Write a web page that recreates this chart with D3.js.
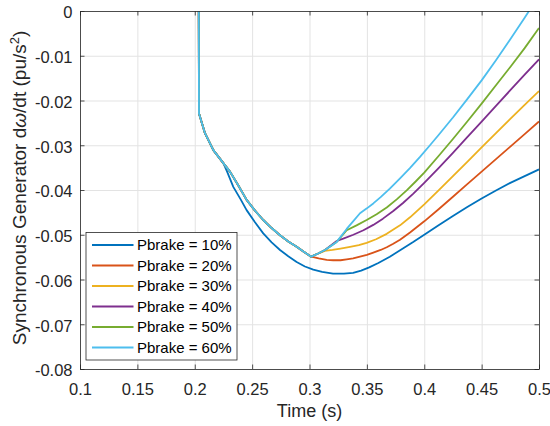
<!DOCTYPE html>
<html>
<head>
<meta charset="utf-8">
<script src="https://cdn.jsdelivr.net/npm/d3@7"></script>
<style>
  body { margin: 0; background: #fff; }
  svg { display: block; font-family: "Liberation Sans", Arial, sans-serif; }
  .grid line { stroke: #e3e3e3; stroke-width: 1; }
  .grid path { display: none; }
  .axis path, .axis line { stroke: #262626; stroke-width: 0.8; }
  .axis text { fill: #262626; font-size: 16.5px; }
</style>
</head>
<body>
<div id="chart"></div>
<script>
// tick labels
const xTicks = [0.1, 0.15, 0.2, 0.25, 0.3, 0.35, 0.4, 0.45, 0.5];
const xTickLabels = ['0.1', '0.15', '0.2', '0.25', '0.3', '0.35', '0.4', '0.45', '0.5'];
const yTicks = [0, -0.01, -0.02, -0.03, -0.04, -0.05, -0.06, -0.07, -0.08];
const yTickLabels = ['0', '-0.01', '-0.02', '-0.03', '-0.04', '-0.05', '-0.06', '-0.07', '-0.08'];

const seriesNames = ['Pbrake = 10%', 'Pbrake = 20%', 'Pbrake = 30%', 'Pbrake = 40%', 'Pbrake = 50%', 'Pbrake = 60%'];
const seriesColors = ['#0072BD', '#D95319', '#EDB120', '#7E2F8E', '#77AC30', '#4DBEEE'];

// shared start of all curves (fault drop)
const startTime = [0.2035, 0.2037, 0.2089, 0.2162, 0.2249];
const startValue = [0.0, -0.0229, -0.0273, -0.0311, -0.0340];

// shared dip of the 20..60% curves
const dipTime = [0.2307, 0.2380, 0.2452, 0.2525, 0.2597, 0.2670, 0.2743, 0.2815, 0.2888, 0.2950, 0.3015];
const dipValue = [-0.0359, -0.0390, -0.0422, -0.0446, -0.0467, -0.0485, -0.0501, -0.0515, -0.0527, -0.0538, -0.0549];

// Pbrake = 10%
const time10 = [0.2280, 0.2336, 0.2400, 0.2452, 0.2525, 0.2597, 0.2670, 0.2743, 0.2815, 0.2888, 0.2960, 0.3033, 0.3110, 0.3205, 0.3300, 0.3380, 0.3450, 0.3520, 0.3600, 0.3700, 0.3800, 0.3900, 0.4000, 0.4125, 0.4250, 0.4375, 0.4500, 0.4625, 0.4750, 0.4875, 0.5000];
const value10 = [-0.0358, -0.0393, -0.0421, -0.0445, -0.0472, -0.0497, -0.0517, -0.0534, -0.0548, -0.0561, -0.0571, -0.0578, -0.0583, -0.0587, -0.0587, -0.0585, -0.0580, -0.0573, -0.0563, -0.0549, -0.0533, -0.0517, -0.0500, -0.0479, -0.0458, -0.0438, -0.0419, -0.0401, -0.0384, -0.0369, -0.0354];

// Pbrake = 20%
const time20 = [0.3080, 0.3150, 0.3207, 0.3270, 0.3324, 0.3380, 0.3440, 0.3500, 0.3556, 0.3620, 0.3673, 0.3730, 0.3789, 0.3876, 0.4000, 0.4125, 0.4250, 0.4375, 0.4500, 0.4625, 0.4750, 0.4875, 0.5000];
const value20 = [-0.0553, -0.0556, -0.0557, -0.0557, -0.0555, -0.0553, -0.0549, -0.0545, -0.0540, -0.0534, -0.0528, -0.0520, -0.0511, -0.0495, -0.0470, -0.0443, -0.0415, -0.0387, -0.0359, -0.0331, -0.0303, -0.0275, -0.0247];

// Pbrake = 30%
const time30 = [0.3074, 0.3133, 0.3200, 0.3270, 0.3353, 0.3430, 0.3498, 0.3580, 0.3673, 0.3789, 0.3876, 0.4000, 0.4125, 0.4250, 0.4375, 0.4500, 0.4625, 0.4750, 0.4875, 0.5000];
const value30 = [-0.0542, -0.0536, -0.0534, -0.0531, -0.0527, -0.0523, -0.0518, -0.0510, -0.0498, -0.0479, -0.0461, -0.0432, -0.0401, -0.0369, -0.0337, -0.0305, -0.0273, -0.0241, -0.0210, -0.0179];

// Pbrake = 40%
const time40 = [0.3075, 0.3135, 0.3237, 0.3300, 0.3382, 0.3470, 0.3556, 0.3640, 0.3730, 0.3815, 0.3905, 0.4000, 0.4125, 0.4250, 0.4375, 0.4500, 0.4625, 0.4750, 0.4875, 0.5000];
const value40 = [-0.0542, -0.0534, -0.0514, -0.0508, -0.0500, -0.0490, -0.0478, -0.0464, -0.0447, -0.0429, -0.0408, -0.0384, -0.0351, -0.0317, -0.0282, -0.0247, -0.0212, -0.0177, -0.0142, -0.0108];

// Pbrake = 50%
const time50 = [0.3075, 0.3135, 0.3237, 0.3324, 0.3410, 0.3498, 0.3585, 0.3673, 0.3760, 0.3847, 0.3925, 0.4000, 0.4125, 0.4250, 0.4375, 0.4500, 0.4625, 0.4750, 0.4875, 0.5000];
const value50 = [-0.0542, -0.0534, -0.0516, -0.0490, -0.0479, -0.0467, -0.0454, -0.0439, -0.0421, -0.0401, -0.0381, -0.0361, -0.0324, -0.0286, -0.0247, -0.0207, -0.0166, -0.0125, -0.0083, -0.0038];

// Pbrake = 60%
const time60 = [0.3075, 0.3135, 0.3237, 0.3324, 0.3380, 0.3440, 0.3500, 0.3556, 0.3620, 0.3700, 0.3789, 0.3875, 0.3963, 0.4050, 0.4125, 0.4250, 0.4375, 0.4500, 0.4625, 0.4750, 0.4875, 0.4913];
const value60 = [-0.0542, -0.0534, -0.0516, -0.0487, -0.0470, -0.0452, -0.0441, -0.0430, -0.0416, -0.0397, -0.0374, -0.0351, -0.0326, -0.0300, -0.0277, -0.0238, -0.0197, -0.0155, -0.0110, -0.0063, -0.0015, 0.0];

const tailTimes = [time10, time20, time30, time40, time50, time60];
const tailValues = [value10, value20, value30, value40, value50, value60];

// 描画サイズ
const width = 550, height = 426;
const margin = { top: 11, right: 11, bottom: 57, left: 80 };
const plotW = width - margin.left - margin.right;
const plotH = height - margin.top - margin.bottom;

const svg = d3.select('#chart').append('svg')
    .attr('width', width)
    .attr('height', height);

const x = d3.scaleLinear().domain([0.1, 0.5]).range([0, plotW]);
const y = d3.scaleLinear().domain([-0.08, 0]).range([plotH, 0]);

const g = svg.append('g').attr('transform', `translate(${margin.left},${margin.top})`);

// グリッド
g.append('g').attr('class', 'grid')
    .attr('transform', `translate(0,${plotH})`)
    .call(d3.axisBottom(x).tickValues(xTicks).tickSize(-plotH).tickFormat(''));
g.append('g').attr('class', 'grid')
    .call(d3.axisLeft(y).tickValues(yTicks).tickSize(-plotW).tickFormat(''));

// 曲線
g.append('clipPath').attr('id', 'clip')
    .append('rect').attr('width', plotW).attr('height', plotH);

const line = d3.line()
    .x(d => x(d.t))
    .y(d => y(d.v));

const series = seriesNames.map((name, i) => {
    let ts = startTime.slice();
    let vs = startValue.slice();
    if (i > 0) {
        ts = ts.concat(dipTime);
        vs = vs.concat(dipValue);
    }
    ts = ts.concat(tailTimes[i]);
    vs = vs.concat(tailValues[i]);
    return { name, color: seriesColors[i], points: ts.map((t, k) => ({ t, v: vs[k] })) };
});

g.append('g').attr('clip-path', 'url(#clip)')
    .selectAll('path')
    .data(series)
    .enter()
    .append('path')
    .attr('fill', 'none')
    .attr('stroke', d => d.color)
    .attr('stroke-width', 1.8)
    .attr('stroke-linejoin', 'round')
    .attr('d', d => line(d.points));

// 軸
g.append('g').attr('class', 'axis')
    .attr('transform', `translate(0,${plotH})`)
    .call(d3.axisBottom(x).tickValues(xTicks).tickSizeInner(-4.5).tickSizeOuter(0).tickPadding(14.3)
        .tickFormat((d, i) => xTickLabels[i]));
g.append('g').attr('class', 'axis')
    .call(d3.axisTop(x).tickValues(xTicks).tickSizeInner(-4.5).tickSizeOuter(0).tickFormat(''));
g.append('g').attr('class', 'axis')
    .call(d3.axisLeft(y).tickValues(yTicks).tickSizeInner(-4.5).tickSizeOuter(0).tickPadding(7.5)
        .tickFormat((d, i) => yTickLabels[i]))
    .selectAll('text').attr('dy', '0.42em');
g.append('g').attr('class', 'axis')
    .attr('transform', `translate(${plotW},0)`)
    .call(d3.axisRight(y).tickValues(yTicks).tickSizeInner(-4.5).tickSizeOuter(0).tickFormat(''));

// 軸ラベル
svg.append('text')
    .attr('x', margin.left + plotW / 2)
    .attr('y', 416.5)
    .attr('text-anchor', 'middle')
    .attr('font-size', '18px')
    .attr('fill', '#262626')
    .text('Time (s)');

const yLabel = svg.append('text')
    .attr('transform', 'rotate(-90)')
    .attr('x', -(margin.top + plotH / 2 - 2))
    .attr('y', 25.5)
    .attr('text-anchor', 'middle')
    .attr('font-size', '19px')
    .attr('fill', '#262626');
yLabel.append('tspan').text('Synchronous Generator d');
yLabel.append('tspan').attr('font-style', 'italic').text('\u03C9');
yLabel.append('tspan').text('/dt (pu/s');
yLabel.append('tspan').attr('font-size', '13px').attr('dy', '-7').text('2');
yLabel.append('tspan').attr('dy', '7').text(')');

// 凡例
const legend = svg.append('g').attr('transform', 'translate(86,232.5)');
legend.append('rect')
    .attr('width', 151)
    .attr('height', 127.5)
    .attr('fill', '#fff')
    .attr('stroke', '#262626')
    .attr('stroke-width', 0.8);
const rows = legend.selectAll('g.row')
    .data(series)
    .enter()
    .append('g')
    .attr('class', 'row')
    .attr('transform', (d, i) => `translate(0,${12.5 + i * 20.5})`);
rows.append('line')
    .attr('x1', 6).attr('x2', 47.5)
    .attr('stroke', d => d.color)
    .attr('stroke-width', 1.8);
rows.append('text')
    .attr('x', 51)
    .attr('dy', '0.36em')
    .attr('font-size', '15px')
    .attr('fill', '#000')
    .text(d => d.name);
</script>
</body>
</html>
